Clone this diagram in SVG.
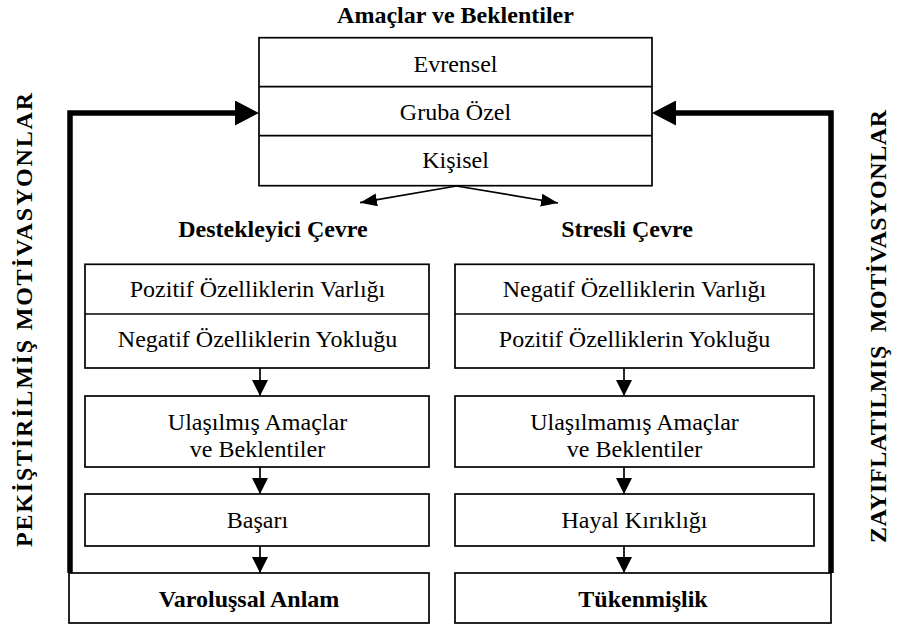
<svg xmlns="http://www.w3.org/2000/svg" width="898" height="627" viewBox="0 0 898 627">
<defs>
<marker id="down" markerUnits="userSpaceOnUse" markerWidth="16" markerHeight="16" refX="16" refY="8" orient="auto">
<path d="M0,0 L16,8 L0,16 z" fill="#000"/>
</marker>
<marker id="sm" markerUnits="userSpaceOnUse" markerWidth="17" markerHeight="13" refX="17" refY="6.5" orient="auto">
<path d="M0,0 L17,6.5 L0,13 z" fill="#000"/>
</marker>
<marker id="big" markerUnits="userSpaceOnUse" markerWidth="24" markerHeight="25" refX="0" refY="12.5" orient="auto">
<path d="M0,0 L24,12.5 L0,25 z" fill="#000"/>
</marker>
</defs>
<style>
.box{fill:#fff;stroke:#000;stroke-width:1.7}
.div{stroke:#000;stroke-width:1.7}
.thin{stroke:#000;stroke-width:1.7;fill:none}
.thick{stroke:#000;stroke-width:5.5;fill:none}
</style>
<rect width="898" height="627" fill="#fff"/>
<g font-family="'Liberation Serif', 'Times New Roman', serif" font-size="24" fill="#000" text-anchor="middle">

<g id="title">
<text font-weight="bold" x="455.5" y="23">Amaçlar ve Beklentiler</text>
</g>

<g id="amaclar">
<rect class="box" x="259" y="37.7" width="393" height="148"/>
<line class="div" x1="259" y1="86.7" x2="652" y2="86.7"/>
<line class="div" x1="259" y1="135.7" x2="652" y2="135.7"/>
<text x="455.5" y="72">Evrensel</text>
<text x="455.5" y="120">Gruba Özel</text>
<text x="455.5" y="168">Kişisel</text>
</g>

<g id="lbl-destek"><text font-weight="bold" x="273" y="237">Destekleyici Çevre</text></g>
<g id="lbl-stres"><text font-weight="bold" x="627" y="237">Stresli Çevre</text></g>

<g id="lbl-pekistirilmis">
<text font-weight="bold" transform="translate(32,320) rotate(-90)" textLength="454" lengthAdjust="spacing">PEKİŞTİRİLMİŞ MOTİVASYONLAR</text>
</g>
<g id="lbl-zayiflatilmis">
<text font-weight="bold" transform="translate(886,326.5) rotate(-90)" textLength="433" lengthAdjust="spacing" xml:space="preserve">ZAYIFLATILMIŞ  MOTİVASYONLAR</text>
</g>

<g id="destek-ozellik">
<rect class="box" x="85" y="264.3" width="344" height="103.7"/>
<line class="div" x1="85" y1="314" x2="429" y2="314"/>
<text x="257.5" y="297">Pozitif Özelliklerin Varlığı</text>
<text x="257.5" y="347">Negatif Özelliklerin Yokluğu</text>
</g>
<g id="ulasilmis">
<rect class="box" x="85" y="396" width="344" height="71"/>
<text x="257.5" y="430">Ulaşılmış Amaçlar</text>
<text x="257.5" y="457">ve Beklentiler</text>
</g>
<g id="basari">
<rect class="box" x="85" y="494" width="344" height="52"/>
<text x="257.5" y="528">Başarı</text>
</g>
<g id="varolussal">
<rect class="box" x="69" y="573" width="360" height="50"/>
<text font-weight="bold" x="249" y="607">Varoluşsal Anlam</text>
</g>

<g id="stres-ozellik">
<rect class="box" x="455" y="264.3" width="359" height="103.7"/>
<line class="div" x1="455" y1="314" x2="814" y2="314"/>
<text x="634.5" y="297">Negatif Özelliklerin Varlığı</text>
<text x="634.5" y="347">Pozitif Özelliklerin Yokluğu</text>
</g>
<g id="ulasilmamis">
<rect class="box" x="455" y="396" width="359" height="71"/>
<text x="634.5" y="430">Ulaşılmamış Amaçlar</text>
<text x="634.5" y="457">ve Beklentiler</text>
</g>
<g id="hayal">
<rect class="box" x="455" y="494" width="359" height="52"/>
<text x="634.5" y="528">Hayal Kırıklığı</text>
</g>
<g id="tukenmislik">
<rect class="box" x="455" y="573" width="376" height="50"/>
<text font-weight="bold" x="643" y="607">Tükenmişlik</text>
</g>
</g>

<g id="connectors">
<line class="thin" x1="456.5" y1="186" x2="360" y2="202.7" marker-end="url(#sm)"/>
<line class="thin" x1="456.5" y1="186" x2="558" y2="203" marker-end="url(#sm)"/>
<line class="thin" x1="260" y1="368" x2="260" y2="396" marker-end="url(#down)"/>
<line class="thin" x1="260" y1="467" x2="260" y2="494" marker-end="url(#down)"/>
<line class="thin" x1="260" y1="546" x2="260" y2="573" marker-end="url(#down)"/>
<line class="thin" x1="624" y1="368" x2="624" y2="396" marker-end="url(#down)"/>
<line class="thin" x1="624" y1="467" x2="624" y2="494" marker-end="url(#down)"/>
<line class="thin" x1="624" y1="546" x2="624" y2="573" marker-end="url(#down)"/>
<path class="thick" d="M70,573 V113 H235" marker-end="url(#big)"/>
<path class="thick" d="M831,573 V113 H676" marker-end="url(#big)"/>
</g>
</svg>
